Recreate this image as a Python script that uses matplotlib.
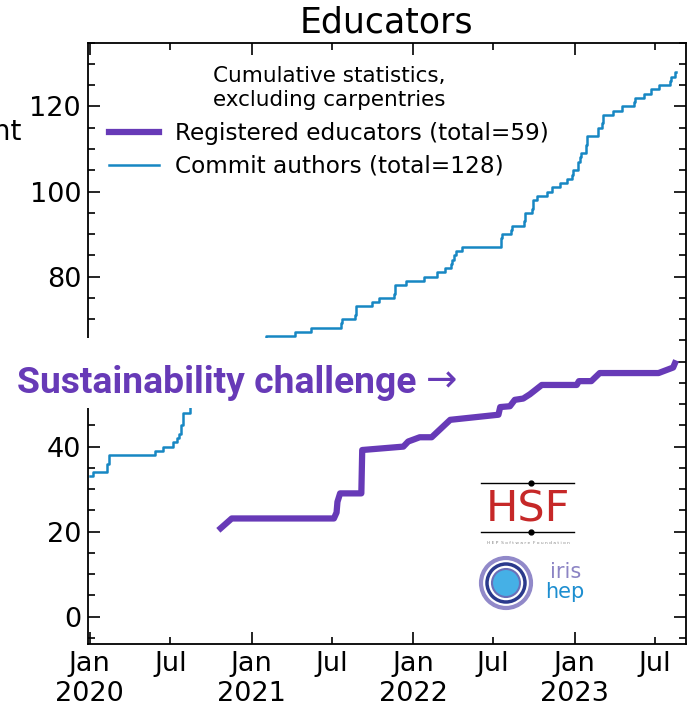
import matplotlib
matplotlib.use("Agg")
import matplotlib.pyplot as plt
import matplotlib.dates as mdates
from matplotlib.patches import Rectangle, Circle
from matplotlib.lines import Line2D
import numpy as np

PURPLE = "#673ab7"
BLUE = "#1787c3"

# Commit authors (cumulative, step-wise)
commit_dates = np.array([
    "2020-01-02", "2020-01-09", "2020-02-09", "2020-02-13", "2020-05-28", "2020-06-15",
    "2020-07-08", "2020-07-17", "2020-07-21", "2020-07-26", "2020-07-30",
    "2020-08-15", "2020-09-10", "2020-10-20", "2020-12-01", "2021-01-08",
    "2021-02-03", "2021-04-09", "2021-05-15", "2021-07-22", "2021-07-24", "2021-08-22",
    "2021-08-25", "2021-09-30", "2021-10-16", "2021-11-18", "2021-11-20", "2021-12-16",
    "2022-01-26", "2022-02-24", "2022-03-14", "2022-03-28", "2022-03-31", "2022-04-04",
    "2022-04-09", "2022-04-22", "2022-07-18", "2022-07-21", "2022-08-10", "2022-08-13",
    "2022-09-09", "2022-09-11", "2022-09-28", "2022-09-30", "2022-10-08", "2022-10-30",
    "2022-11-11", "2022-11-29", "2022-12-14", "2022-12-27", "2022-12-29", "2023-01-10",
    "2023-01-13", "2023-01-15", "2023-01-27", "2023-01-29", "2023-02-24", "2023-03-05",
    "2023-03-07", "2023-03-30", "2023-04-18", "2023-05-16", "2023-05-18", "2023-06-06",
    "2023-06-23", "2023-07-10", "2023-08-05", "2023-08-07", "2023-08-16", "2023-08-19",
], dtype="datetime64[D]")
commit_counts = [
    33, 34, 36, 38, 39, 40,
    41, 42, 43, 45, 48,
    52, 55, 59, 63, 65,
    66, 67, 68, 69, 70, 71,
    73, 74, 75, 76, 78, 79,
    80, 81, 82, 83, 84, 85,
    86, 87, 89, 90, 91, 92,
    93, 95, 96, 98, 99, 100,
    101, 102, 103, 104, 105, 107,
    108, 109, 111, 113, 115, 116,
    118, 119, 120, 121, 122, 123,
    124, 125, 126, 127, 128, 128,
]

# Registered educators (cumulative)
edu_dates = np.array([
    "2020-10-23", "2020-11-17", "2021-07-06", "2021-07-12", "2021-07-14", "2021-07-20",
    "2021-09-06", "2021-09-08", "2021-12-10", "2021-12-21", "2022-01-16", "2022-02-12",
    "2022-03-26", "2022-07-13", "2022-07-17", "2022-08-08", "2022-08-19", "2022-09-07",
    "2022-09-22", "2022-10-19", "2023-01-06", "2023-01-11", "2023-02-08", "2023-02-27",
    "2023-07-10", "2023-08-12", "2023-08-16",
], dtype="datetime64[D]")
edu_counts = [
    20.8, 23.1, 23.1, 24.5, 27, 29,
    29, 39.2, 40, 41.2, 42.2, 42.2,
    46.3, 47.5, 49.3, 49.5, 51, 51.3,
    52.3, 54.5, 54.5, 55.4, 55.4, 57.3,
    57.3, 58.6, 59.6,
]

fig = plt.figure(figsize=(6.93, 7.14), dpi=100)
ax = fig.add_axes([0.127, 0.0976, 0.8622, 0.8426])

ax.plot(edu_dates, edu_counts, color=PURPLE, lw=4.5,
        label="Registered educators (total=59)")
ax.plot(commit_dates, commit_counts, color=BLUE, lw=1.8, drawstyle="steps-post",
        label="Commit authors (total=128)")

ax.set_xlim(np.datetime64("2019-12-28"), np.datetime64("2023-09-09"))
ax.set_ylim(-6.5, 135)
ax.set_yticks([0, 20, 40, 60, 80, 100, 120])
ax.yaxis.set_minor_locator(plt.MultipleLocator(5))
ax.xaxis.set_major_locator(mdates.MonthLocator(bymonth=1))
ax.xaxis.set_major_formatter(mdates.DateFormatter("%b\n%Y"))
ax.xaxis.set_minor_locator(mdates.MonthLocator(bymonth=7))
ax.xaxis.set_minor_formatter(mdates.DateFormatter("%b"))

ax.tick_params(which="both", direction="in", top=True, right=True, labelsize=19.5, pad=5, width=1.2)
ax.tick_params(which="major", length=8.5)
ax.tick_params(which="minor", length=4.8)
for s in ax.spines.values():
    s.set_linewidth(1.3)

ax.set_title("Educators", fontsize=25, pad=7)

leg = ax.legend(loc="upper left", bbox_to_anchor=(0.02, 0.976), frameon=False,
                fontsize=16.7, title="Cumulative statistics,\nexcluding carpentries",
                title_fontsize=15.5, handlelength=2.15, handletextpad=0.7,
                labelspacing=0.42, borderaxespad=0)
leg._legend_box.sep = 9  # a bit more room between title and entries

fig.text(22 / 693, 1 - 140 / 714, "Count", fontsize=20, ha="right", va="baseline")

# white band with the sustainability message
fig.add_artist(Rectangle((0, 1 - 408 / 714), 480 / 693, 70 / 714, transform=fig.transFigure,
                         facecolor="white", edgecolor="none", zorder=10))
fig.text(17 / 693, 1 - 393 / 714, "Sustainability challenge", fontsize=26.8,
         family="Roboto", weight="bold", color=PURPLE,
         va="baseline", ha="left", zorder=11)
fig.text(426 / 693, 1 - 391 / 714, "\u2192", fontsize=27, family="DejaVu Sans",
         color=PURPLE, va="baseline", ha="left", zorder=11)

# HSF logo (approximation)
for yy in (483, 532):
    fig.add_artist(Line2D([481 / 693, 574 / 693], [1 - yy / 714, 1 - yy / 714],
                          transform=fig.transFigure, color="black", lw=1))
    fig.add_artist(Line2D([531 / 693], [1 - yy / 714], transform=fig.transFigure,
                          marker="o", ms=3.5, color="black"))
fig.text(528 / 693, 1 - 510 / 714, "HSF", fontsize=31, color="#c62828",
         ha="center", va="center")
fig.text(528 / 693, 1 - 543 / 714, "H E P  S o f t w a r e  F o u n d a t i o n", fontsize=3.2,
         color="#888888", ha="center", va="center")

# IRIS-HEP logo (approximation)
cx, cy = 5.06, 7.14 - 5.83
fig.add_artist(Circle((cx, cy), 0.25, transform=fig.dpi_scale_trans, facecolor="none",
                      edgecolor="#9189c9", lw=3))
fig.add_artist(Circle((cx, cy), 0.19, transform=fig.dpi_scale_trans, facecolor="none",
                      edgecolor="#2b3a8c", lw=2.5))
fig.add_artist(Circle((cx, cy), 0.14, transform=fig.dpi_scale_trans, facecolor="#45b0e6",
                      edgecolor="#6a6fb8", lw=1.5))
fig.text(550 / 693, 1 - 578 / 714, "iris", fontsize=15, color="#8c84c4", ha="left", va="baseline")
fig.text(545 / 693, 1 - 598 / 714, "hep", fontsize=15, color="#1d8ed0", ha="left", va="baseline")

fig.savefig("out.png", dpi=100)
